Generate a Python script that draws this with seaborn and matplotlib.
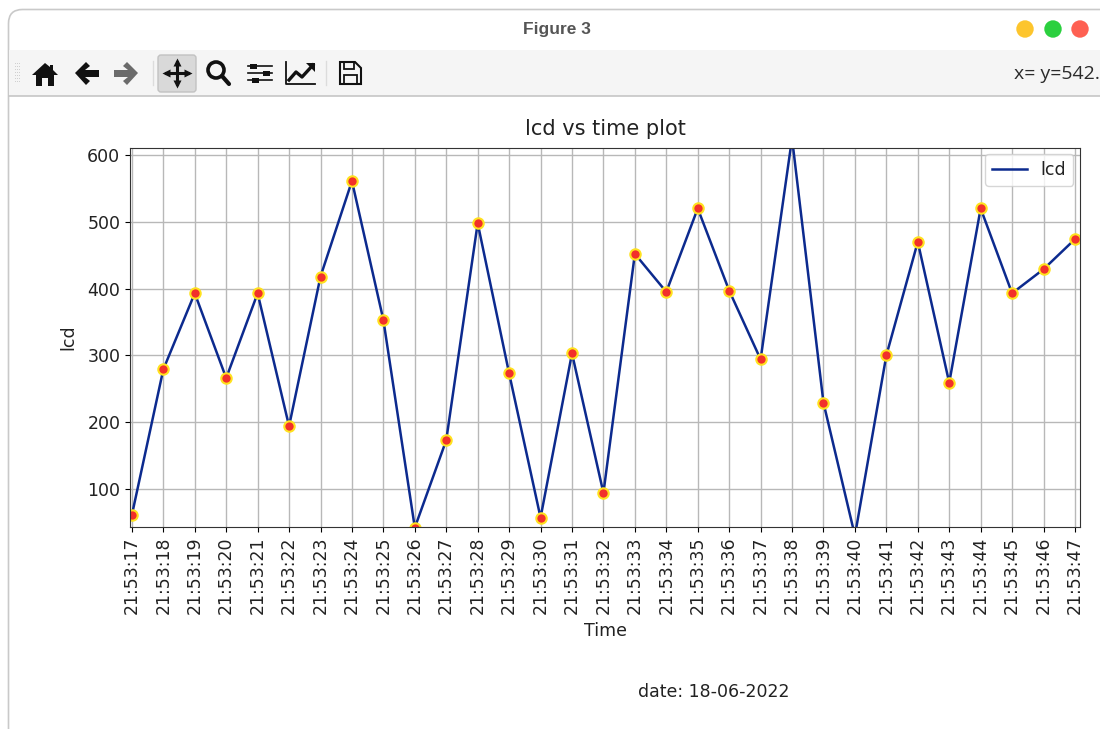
import matplotlib
matplotlib.use("Agg")
import matplotlib.pyplot as plt
import pandas as pd
import seaborn as sns
from matplotlib.patches import Circle, FancyBboxPatch, Polygon, Rectangle

# values
seconds = list(range(17, 48))
times = [f"21:53:{s}" for s in seconds]
lcd = [61, 279, 393, 266, 393, 194, 418, 561, 353, 42, 173, 498, 273, 57, 303, 94,
       452, 395, 520, 397, 294, 625, 229, 30, 300, 470, 259, 520, 393, 429, 474]

W, H = 1100, 729
df = pd.DataFrame({"Time": times, "lcd": lcd})

plt.rcParams["font.size"] = 12.5
plt.rcParams["text.color"] = "#222222"
plt.rcParams["axes.labelcolor"] = "#222222"
plt.rcParams["xtick.labelcolor"] = "#222222"
plt.rcParams["ytick.labelcolor"] = "#222222"

fig = plt.figure(figsize=(W / 100, H / 100), dpi=100, facecolor="white")

# window frame and toolbar, in pixel coordinates
bg = fig.add_axes([0, 0, 1, 1], zorder=0)
bg.set_xlim(0, W)
bg.set_ylim(H, 0)
bg.axis("off")

bg.add_patch(FancyBboxPatch((8.5, 9.5), 1120, 760, boxstyle="round,pad=0,rounding_size=14",
                            fc="white", ec="#c9c9c9", lw=1.2))
bg.add_patch(Rectangle((9, 50), W - 9, 46, fc="#f5f5f5", ec="none"))
bg.plot([9, W], [96, 96], color="#c6c6c6", lw=1.2)
bg.text(557, 29, "Figure 3", ha="center", va="center", fontsize=12.5, fontweight="bold",
        color="#555555", family="Liberation Sans")
for cx, col in [(1025, "#fdc52d"), (1053, "#2bd03f"), (1080, "#fe6052")]:
    bg.add_patch(Circle((cx, 29), 8.7, fc=col, ec="none"))
bg.text(1014, 74, "x= y=542.", ha="left", va="center", fontsize=14, color="#2b2b2b",
        family="Open Sans", clip_on=True)

# grip dots
for gx in (15, 17, 19):
    for gy in range(63, 83, 3):
        bg.add_patch(Rectangle((gx, gy), 1, 1, fc="#d0d0d0", ec="none"))
for sx in (153, 326):
    bg.plot([sx, sx], [61, 85], color="#dcdcdc", lw=1)

ic = "#111111"
# home
bg.add_patch(Polygon([(32, 75), (45, 63), (50, 67), (50, 65), (53, 65), (53, 70), (58, 75),
                      (54, 75), (54, 86), (48, 86), (48, 78), (42, 78), (42, 86), (36, 86), (36, 75)],
                     fc=ic, ec="none"))
# back and forward arrows
bg.add_patch(Polygon([(75, 73), (86, 62), (90, 66), (85, 70), (99, 70), (99, 77), (85, 77), (90, 81), (86, 85)],
                     fc=ic, ec="none"))
bg.add_patch(Polygon([(138, 73), (127, 62), (123, 66), (128, 70), (114, 70), (114, 77), (128, 77), (123, 81), (127, 85)],
                     fc="#6b6b6b", ec="none"))
# pan button
bg.add_patch(FancyBboxPatch((158, 55), 38, 37, boxstyle="round,pad=0,rounding_size=3",
                            fc="#d9d9d9", ec="#c2c2c2", lw=1))
bg.plot([166, 188], [73, 73], color=ic, lw=2.2)
bg.plot([177, 177], [62, 84], color=ic, lw=2.2)
for (a, b) in [((177, 62), "^"), ((177, 84), "v"), ((166, 73), "<"), ((188, 73), ">")]:
    bg.plot(*a, marker=b, color=ic, ms=5.5, mec="none")
# zoom
bg.add_patch(Circle((216, 70), 8, fc="none", ec=ic, lw=2.6))
bg.plot([222, 229], [76, 84], color=ic, lw=3, solid_capstyle="round")
# sliders
for yy, xx in [(66, 253), (73, 266), (80, 255)]:
    bg.plot([248, 272], [yy, yy], color=ic, lw=1.2)
    bg.add_patch(Rectangle((xx - 3, yy - 2.5), 7, 5, fc=ic, ec="none"))
# lines
bg.plot([286, 286, 315], [62, 84, 84], color=ic, lw=1.3)
bg.plot([289, 296, 302, 313], [80, 72, 77, 65], color=ic, lw=2.4)
bg.add_patch(Polygon([(306, 63), (315, 63), (315, 72)], fc=ic, ec="none"))
# save
bg.add_patch(Polygon([(340, 62), (355, 62), (361, 68), (361, 84), (340, 84)], fc="none", ec=ic, lw=1.5))
bg.add_patch(Rectangle((344, 62), 10, 7, fc="none", ec=ic, lw=1.3))
bg.add_patch(Rectangle((344, 75), 13, 9, fc="none", ec=ic, lw=1.3))

# the chart
ax = fig.add_axes([130 / W, 1 - 527 / H, 950 / W, 379 / H], zorder=1)
sns.lineplot(data=df, x="Time", y="lcd", sort=False, color="#0c2a8e", linewidth=1.8,
             label="lcd", ax=ax)
sns.lineplot(data=df, x="Time", y="lcd", sort=False, linestyle="none", marker="o",
             markersize=7.5, markerfacecolor="#f2302a", markeredgecolor="#ffe21f",
             markeredgewidth=1.5, legend=False, ax=ax)
ax.set_xlim(-0.06, 30.16)
ax.set_ylim(43, 610.5)
ax.set_xticks(range(len(times)))
ax.set_xticklabels(times, rotation=90)
ax.set_yticks([100, 200, 300, 400, 500, 600])
ax.grid(True, color="#b8b8b8", linewidth=1)
ax.set_axisbelow(True)
for sp in ax.spines.values():
    sp.set_color("#333333")
ax.set_title("lcd vs time plot", fontsize=15, pad=9.5)
ax.set_xlabel("Time", labelpad=5.5)
ax.set_ylabel("lcd", labelpad=7)
ax.legend(loc="upper right", fontsize=12.5, bbox_to_anchor=(1.002, 1.008))

fig.text(714 / W, 1 - 692 / H, "date: 18-06-2022", ha="center", va="center", fontsize=12.5)

fig.savefig("out.png", dpi=100)
